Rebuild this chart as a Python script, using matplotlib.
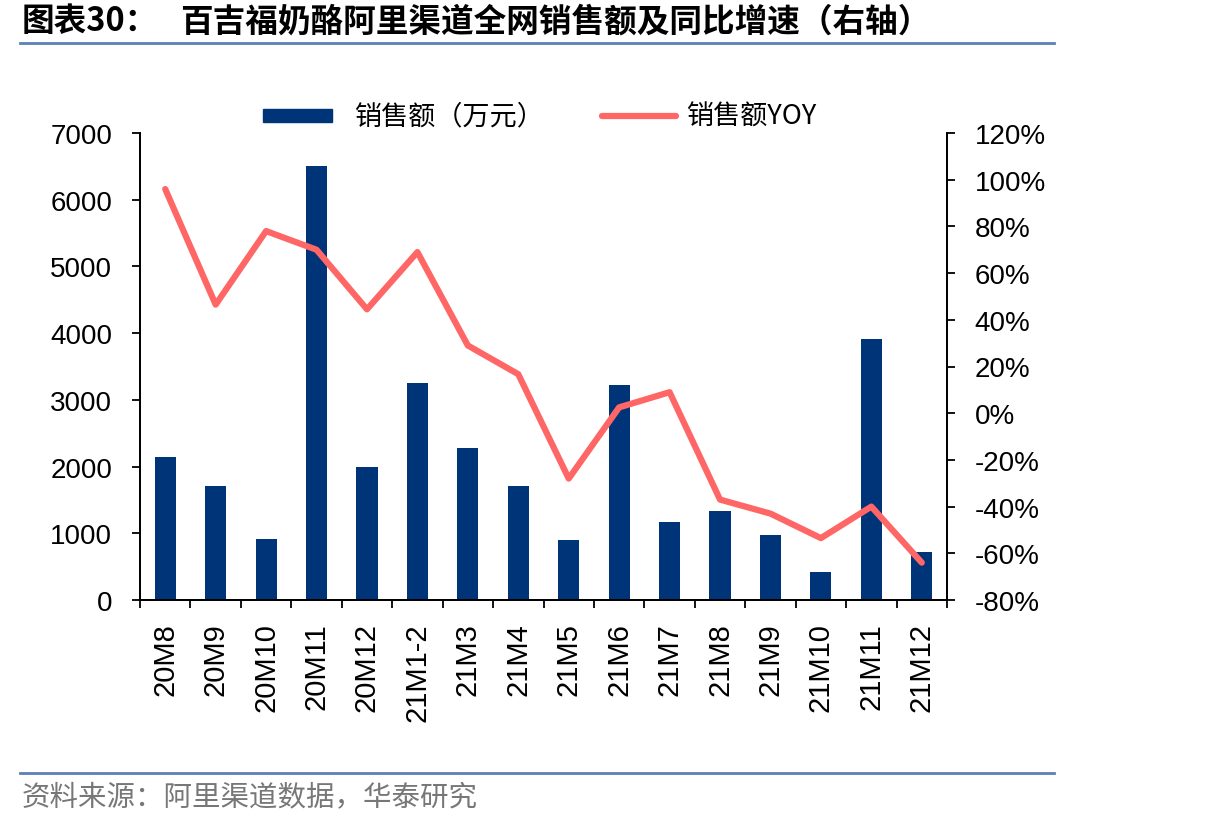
import matplotlib
matplotlib.use("Agg")
import matplotlib.pyplot as plt
from matplotlib.patches import Rectangle
from matplotlib.ticker import FuncFormatter, MultipleLocator

categories = ["20M8", "20M9", "20M10", "20M11", "20M12", "21M1-2", "21M3", "21M4",
              "21M5", "21M6", "21M7", "21M8", "21M9", "21M10", "21M11", "21M12"]
sales = [2140, 1710, 910, 6500, 1990, 3260, 2280, 1710,
         900, 3220, 1170, 1330, 975, 420, 3910, 720]
yoy = [96, 46.5, 78, 70, 44.5, 69, 29, 16.7,
       -28, 2.5, 9, -37, -43, -53.5, -40, -64]

bar_color = "#003478"
line_color = "#FF6666"
latin = ["Liberation Sans", "Noto Sans CJK SC"]
cjk = ["Noto Sans CJK SC", "Liberation Sans"]

W, H = 1206, 828
fig = plt.figure(figsize=(W / 100, H / 100), dpi=100)
ax = fig.add_axes([140/W, 1-601/H, (947-140)/W, (601-134)/H])
ax2 = ax.twinx()

x = list(range(len(categories)))
bars = ax.bar(x, sales, width=0.42, color=bar_color, zorder=2)
line, = ax2.plot(x, yoy, color=line_color, lw=4.5, solid_capstyle="round",
                 solid_joinstyle="round", zorder=3)

ax.set_xlim(-0.5, len(categories) - 0.5)
ax.set_ylim(0, 7000)
ax.yaxis.set_major_locator(MultipleLocator(1000))
ax2.set_ylim(-80, 120)
ax2.yaxis.set_major_locator(MultipleLocator(20))
ax2.yaxis.set_major_formatter(FuncFormatter(lambda v, p: f"{v:.0f}%"))

ax.set_xticks([i - 0.5 for i in range(len(categories) + 1)], minor=False)
ax.set_xticklabels([])
ax.set_xticks(x, minor=True)
ax.set_xticklabels(categories, minor=True, rotation=90, fontsize=21, family=latin)
ax.tick_params(axis="x", which="major", length=6, width=1.3, direction="out")
ax.tick_params(axis="x", which="minor", length=0, pad=16)
ax.tick_params(axis="y", length=6, width=1.3, direction="out", labelsize=20, pad=14)
ax2.tick_params(axis="y", length=6, width=1.3, direction="out", labelsize=20, pad=14)
for lab in ax.get_yticklabels() + ax2.get_yticklabels():
    lab.set_family(latin)

for a in (ax, ax2):
    a.spines["top"].set_visible(False)
    for s in ("left", "right", "bottom"):
        a.spines[s].set_linewidth(1.3)
ax2.set_zorder(ax.get_zorder() + 1)
ax2.patch.set_visible(False)

# legend (drawn manually in figure coordinates)
ly = 1 - 117/H
fig.add_artist(Rectangle((263/W, 1-123/H), 69/W, 13/H, color=bar_color, transform=fig.transFigure))
fig.text(355/W, ly, "销售额（万元）", fontsize=19.5, family=cjk, va="center", ha="left")
fig.add_artist(plt.Line2D([602/W, 676/W], [ly, ly], color=line_color, lw=4.5,
                          solid_capstyle="round"))
fig.text(687/W, ly, "销售额YOY", fontsize=19.5, family=cjk, va="center", ha="left")

# title & lines
fig.text(22/W, 1-22/H, "图表30：", fontsize=23.5, fontweight="bold",
         family=cjk, va="center", ha="left")
fig.text(180/W, 1-22/H, "百吉福奶酪阿里渠道全网销售额及同比增速（右轴）", fontsize=23.5,
         fontweight="bold", family=cjk, va="center", ha="left")
fig.add_artist(plt.Line2D([20/W, 1054/W], [1-44/H, 1-44/H], color="#5B80B8", lw=2))
fig.add_artist(plt.Line2D([20/W, 1054/W], [1-774/H, 1-774/H], color="#5B80B8", lw=2))
fig.text(22/W, 1-797/H, "资料来源：阿里渠道数据，华泰研究", fontsize=20.5,
         color="#777777", family=cjk, va="center", ha="left")

fig.savefig("out.png", dpi=100)
